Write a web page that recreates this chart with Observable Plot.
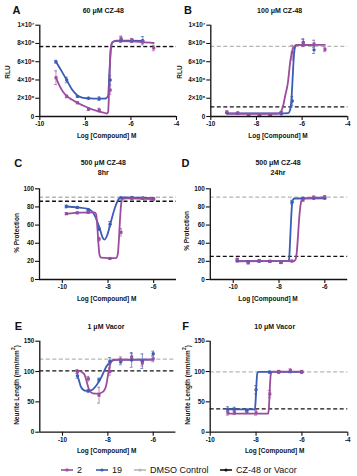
<!DOCTYPE html>
<html><head><meta charset="utf-8">
<script src="https://cdn.jsdelivr.net/npm/d3@7"></script>
<script src="https://cdn.jsdelivr.net/npm/@observablehq/plot@0.6"></script>
<style>
body{margin:0;background:#fff;font-family:"Liberation Sans",Arial,sans-serif;}
#fig{position:relative;width:357px;height:476px;overflow:hidden;background:#fff;}
.abs{position:absolute;white-space:nowrap;transform:translate(-50%,-50%);color:#111;}
.letter{font-weight:bold;font-size:11px;}
.title{font-weight:bold;font-size:7px;text-align:center;line-height:10px;}
.xl{font-weight:bold;font-size:6.5px;}
.yl{font-weight:bold;font-size:6.5px;transform:translate(-50%,-50%) rotate(-90deg);}
.panel{position:absolute;}
.panel svg{overflow:visible;}
.leg{position:absolute;font-size:9px;color:#111;transform:translateY(-50%);white-space:nowrap;}
</style>
</head><body><div id="fig"></div>
<script>
const PURPLE = "#9a4c9e", BLUE = "#3a5cb5", GRAY = "#b5b5b5", BLACK = "#111";

// ---------- Panel A: 60 µM CZ-48 (RLU) ----------
const concA = [-9.29,-8.82,-8.34,-7.86,-7.39,-6.91,-6.43,-5.95,-5.48,-5.0];
const blueA = [6.0e6,4.0e6,2.2e6,2.0e6,1.95e6,4.0e6,8.4e6,8.3e6,8.3e6,null];
const blueErrA = [0.15e6,0.3e6,0.1e6,0.1e6,0.2e6,0.5e6,0.3e6,0.2e6,0.45e6,null];
const purpleA = [4.25e6,2.2e6,1.5e6,0.8e6,0.7e6,2.9e6,8.5e6,8.35e6,8.2e6,7.5e6];
const purpleErrA = [0.75e6,0.15e6,0.1e6,0.15e6,0.2e6,0.5e6,0.3e6,0.2e6,0.2e6,0.3e6];
const blueCurveA = [[-9.29,6.0e6],[-9.05,5.0e6],[-8.82,4.0e6],[-8.6,3.0e6],[-8.35,2.3e6],[-8.1,2.05e6],[-7.8,1.98e6],[-7.4,1.95e6],[-7.1,1.97e6],[-7.0,2.3e6],[-6.96,4.0e6],[-6.92,6.0e6],[-6.87,7.6e6],[-6.8,8.15e6],[-6.6,8.3e6],[-6.0,8.3e6],[-5.48,8.28e6]];
const purpleCurveA = [[-9.29,4.25e6],[-9.12,3.3e6],[-8.95,2.6e6],[-8.82,2.25e6],[-8.6,1.85e6],[-8.35,1.5e6],[-8.1,1.2e6],[-7.88,0.95e6],[-7.6,0.7e6],[-7.41,0.55e6],[-7.2,0.42e6],[-7.05,0.33e6],[-7.0,0.5e6],[-6.97,2.0e6],[-6.93,5.0e6],[-6.89,7.4e6],[-6.83,8.1e6],[-6.7,8.25e6],[-6.0,8.22e6],[-5.5,8.15e6],[-5.0,8.05e6]];
const grayA = 7.7e6, blackA = 7.65e6;

// ---------- Panel B: 100 µM CZ-48 (RLU) ----------
const concB = [-9.29,-8.82,-8.34,-7.86,-7.39,-6.91,-6.43,-5.95,-5.48,-5.0];
const blueB = [0.4e6,0.35e6,0.2e6,0.1e6,0.12e6,0.3e6,1.7e6,8.1e6,7.3e6,null];
const blueErrB = [0.05e6,0.05e6,0.05e6,0.05e6,0.05e6,0.1e6,0.5e6,0.4e6,0.4e6,null];
const purpleB = [0.5e6,0.4e6,0.22e6,0.12e6,0.15e6,0.45e6,7.0e6,8.05e6,7.95e6,7.35e6];
const purpleErrB = [0.1e6,0.05e6,0.05e6,0.05e6,0.05e6,0.1e6,0.8e6,0.4e6,0.4e6,0.25e6];
const blueCurveB = [[-9.29,0.35e6],[-7.0,0.35e6],[-6.6,0.38e6],[-6.53,0.7e6],[-6.47,1.8e6],[-6.42,4.0e6],[-6.37,6.3e6],[-6.32,7.5e6],[-6.25,7.85e6],[-5.48,7.85e6]];
const purpleCurveB = [[-9.29,0.3e6],[-7.1,0.3e6],[-6.95,0.45e6],[-6.85,1.0e6],[-6.74,2.3e6],[-6.63,3.6e6],[-6.52,6.0e6],[-6.42,7.3e6],[-6.32,7.75e6],[-6.2,7.85e6],[-5.0,7.85e6]];
const grayB = 7.68e6, blackB = 1.06e6;

// ---------- Panel C: 500 µM CZ-48, 8hr (% Protection) ----------
const concC = [-9.82,-9.34,-8.86,-8.39,-7.91,-7.43,-6.95,-6.48,-6.0];
const blueC = [80.5,79.3,77,56,61,90,90.5,90,89];
const blueErrC = [1.5,1,1,2,3,1,0.5,0.5,0.5];
const purpleC = [72.5,73.5,74,44.5,23.2,52,89.5,89.5,88.5];
const purpleErrC = [1,1,1,2,1,4,1,1,1];
const blueCurveC = [[-9.82,80.5],[-9.35,79.6],[-8.87,77.8],[-8.58,70.5],[-8.36,56],[-8.22,45.5],[-8.15,44],[-8.04,48.5],[-7.9,61],[-7.71,78],[-7.52,89],[-7.38,90.5],[-6.0,89.8]];
const purpleCurveC = [[-9.82,72.5],[-9.2,73.8],[-8.6,74],[-8.52,72],[-8.47,59],[-8.42,40],[-8.37,27],[-8.3,24],[-8.0,23.5],[-7.65,23.6],[-7.57,28],[-7.52,45],[-7.47,68],[-7.42,84],[-7.36,89],[-7.2,89.5],[-6.0,88.7]];
const grayC = 90.7, blackC = 86.3;

// ---------- Panel D: 500 µM CZ-48, 24hr (% Protection) ----------
const concD = [-9.82,-9.34,-8.86,-8.39,-7.91,-7.43,-6.95,-6.48,-6.0];
const blueD = [20.5,19.5,20,20,18.8,85.3,89.5,89.5,89.5];
const blueErrD = [1,1,1,1,1,2,0.5,0.5,0.5];
const purpleD = [22.3,18.3,20.9,20.1,18.7,20.3,87.5,90.8,91.2];
const purpleErrD = [1,1,1,1,1,1,1,1,1];
const blueCurveD = [[-9.82,20.2],[-7.6,20.2],[-7.56,22],[-7.52,40],[-7.48,62],[-7.44,80],[-7.4,87.5],[-7.33,89.3],[-6.0,89.5]];
const purpleCurveD = [[-9.82,20.1],[-7.35,20.3],[-7.28,22],[-7.22,31],[-7.17,48],[-7.12,67],[-7.07,80],[-7.02,87],[-6.93,89.5],[-6.0,90.5]];
const grayD = 90.8, blackD = 25.6;

// ---------- Panel E: 1 µM Vacor (Neurite Length) ----------
const concE = [-9.34,-8.86,-8.39,-7.91,-7.43,-6.95,-6.48,-6.0];
const blueE = [93,68,86,117,116,119,117,129.5];
const blueErrE = [4,2,3,6,5,12,12,4];
const purpleE = [100,88,61,100,119,124,114,121];
const purpleErrE = [3,4,13,6,5,6,5,5];
const blueCurveE = [[-9.34,93],[-9.27,85],[-9.2,76],[-9.1,70.5],[-8.95,68.2],[-8.72,69.3],[-8.5,77.5],[-8.28,91.3],[-8.07,107.8],[-7.85,117],[-7.63,119.3],[-6.0,119.5]];
const purpleCurveE = [[-9.38,102],[-9.16,99.5],[-9.02,94],[-8.91,80.3],[-8.83,70],[-8.66,64],[-8.44,63.5],[-8.22,66.5],[-8.07,77.5],[-7.97,99.5],[-7.85,116],[-7.71,119.5],[-6.0,119.5]];
const grayE = 120.3, blackE = 101.2;

// ---------- Panel F: 10 µM Vacor (Neurite Length) ----------
const concF = [-9.23,-8.94,-8.4,-8.0,-7.4,-7.0,-6.5,-6.0];
const blueF = [38,38,36,70,99,99,100,99];
const blueErrF = [4,3,2,7,2,2,2,2];
const purpleF = [32,32,32.5,32,63,100,101.5,100];
const purpleErrF = [4,3,2,4,6,2,3,2];
const blueCurveF = [[-9.23,37.5],[-8.06,37.5],[-8.03,45],[-8.0,65],[-7.97,88],[-7.94,98],[-7.88,99.5],[-6.0,99.5]];
const purpleCurveF = [[-9.23,30.5],[-7.48,30.5],[-7.45,36],[-7.42,55],[-7.39,80],[-7.36,95],[-7.32,99.8],[-6.0,100]];
const grayF = 99.5, blackF = 38.5;

const rluFormat = d => d === 0 ? "0" : d === 1e7 ? "1×10⁷" : `${d / 1e6}×10⁶`;
const intFormat = d => String(d);

function pts(conc, vals, errs) {
  return conc.map((x, i) => ({x, y: vals[i], e: errs[i]})).filter(d => d.y != null);
}

function panel(o) {
  const b = pts(o.conc, o.blue, o.blueErr);
  const p = pts(o.conc, o.purple, o.purpleErr);
  const cap = 0.065;
  const errMarks = (data, color) => [
    Plot.ruleX(data, {x: "x", y1: d => d.y - d.e, y2: d => d.y + d.e, stroke: color, strokeWidth: 0.9, strokeOpacity: 0.75}),
    Plot.ruleY(data, {y: d => d.y + d.e, x1: d => d.x - cap, x2: d => d.x + cap, stroke: color, strokeWidth: 0.9, strokeOpacity: 0.75}),
    Plot.ruleY(data, {y: d => d.y - d.e, x1: d => d.x - cap, x2: d => d.x + cap, stroke: color, strokeWidth: 0.9, strokeOpacity: 0.75})
  ];
  const chart = Plot.plot({
    width: o.width, height: o.height,
    marginLeft: o.mL, marginRight: o.mR, marginTop: o.mT, marginBottom: o.mB,
    x: {domain: o.xDomain},
    y: {domain: o.yDomain},
    style: {background: "transparent", overflow: "visible", fontFamily: "'Liberation Sans', Arial, sans-serif", fontSize: "6.3px", fontWeight: "bold", color: "#111"},
    marks: [
      Plot.ruleY([o.gray], {stroke: GRAY, strokeWidth: 1.3, strokeDasharray: "4,2.5"}),
      Plot.ruleY([o.black], {stroke: BLACK, strokeWidth: 1.3, strokeDasharray: "4,2.5"}),
      ...errMarks(b, BLUE),
      ...errMarks(p, PURPLE),
      Plot.line(o.blueCurve, {x: d => d[0], y: d => d[1], stroke: BLUE, strokeWidth: 1.8, curve: "monotone-x"}),
      Plot.line(o.purpleCurve, {x: d => d[0], y: d => d[1], stroke: PURPLE, strokeWidth: 1.8, curve: "monotone-x"}),
      Plot.dot(b, {x: "x", y: "y", fill: BLUE, r: 1.7, symbol: "circle"}),
      Plot.dot(p, {x: "x", y: "y", fill: PURPLE, r: 1.7, symbol: "square"}),
      Plot.axisX({ticks: o.xTicks, tickSize: 4, tickPadding: 1.5, label: null, tickFormat: intFormat, strokeWidth: 1.1}),
      Plot.axisY({ticks: o.yTicks, tickSize: 4, tickPadding: 1.5, label: null, tickFormat: o.yFormat, strokeWidth: 1.1}),
      Plot.ruleY([o.yDomain[0]], {stroke: "#111", strokeWidth: 1.3}),
      Plot.ruleX([o.xDomain[0]], {stroke: "#111", strokeWidth: 1.3})
    ]
  });
  const wrap = document.createElement("div");
  wrap.className = "panel";
  wrap.style.left = o.left + "px";
  wrap.style.top = o.top + "px";
  wrap.appendChild(chart);
  fig.appendChild(wrap);
}

const fig = document.getElementById("fig");

panel({left: 0, top: 0, width: 178, height: 132, mL: 39.3, mR: 2, mT: 24.7, mB: 16,
  xDomain: [-10, -4], xTicks: [-10, -8, -6, -4], yDomain: [0, 1e7], yTicks: [0, 2e6, 4e6, 6e6, 8e6, 1e7], yFormat: rluFormat,
  conc: concA, blue: blueA, blueErr: blueErrA, purple: purpleA, purpleErr: purpleErrA,
  blueCurve: blueCurveA, purpleCurve: purpleCurveA, gray: grayA, black: blackA});
panel({left: 178, top: 0, width: 179, height: 132, mL: 32.3, mR: 9.7, mT: 24.7, mB: 16,
  xDomain: [-10, -4], xTicks: [-10, -8, -6, -4], yDomain: [0, 1e7], yTicks: [0, 2e6, 4e6, 6e6, 8e6, 1e7], yFormat: rluFormat,
  conc: concB, blue: blueB, blueErr: blueErrB, purple: purpleB, purpleErr: purpleErrB,
  blueCurve: blueCurveB, purpleCurve: purpleCurveB, gray: grayB, black: blackB});
panel({left: 0, top: 140, width: 178, height: 156, mL: 39, mR: 2, mT: 48.3, mB: 17,
  xDomain: [-11, -5], xTicks: [-10, -8, -6], yDomain: [0, 100], yTicks: [0, 20, 40, 60, 80, 100], yFormat: intFormat,
  conc: concC, blue: blueC, blueErr: blueErrC, purple: purpleC, purpleErr: purpleErrC,
  blueCurve: blueCurveC, purpleCurve: purpleCurveC, gray: grayC, black: blackC});
panel({left: 178, top: 140, width: 179, height: 156, mL: 31.8, mR: 9.8, mT: 48.3, mB: 17,
  xDomain: [-11, -5], xTicks: [-10, -8, -6], yDomain: [0, 100], yTicks: [0, 20, 40, 60, 80, 100], yFormat: intFormat,
  conc: concD, blue: blueD, blueErr: blueErrD, purple: purpleD, purpleErr: purpleErrD,
  blueCurve: blueCurveD, purpleCurve: purpleCurveD, gray: grayD, black: blackD});
panel({left: 0, top: 295, width: 178, height: 153, mL: 39.3, mR: 2.6, mT: 45.7, mB: 16.3,
  xDomain: [-11, -5], xTicks: [-10, -8, -6], yDomain: [0, 150], yTicks: [0, 50, 100, 150], yFormat: intFormat,
  conc: concE, blue: blueE, blueErr: blueErrE, purple: purpleE, purpleErr: purpleErrE,
  blueCurve: blueCurveE, purpleCurve: purpleCurveE, gray: grayE, black: blackE});
panel({left: 178, top: 295, width: 179, height: 153, mL: 31.7, mR: 9.7, mT: 45.7, mB: 16.3,
  xDomain: [-10, -4], xTicks: [-10, -8, -6, -4], yDomain: [0, 150], yTicks: [0, 50, 100, 150], yFormat: intFormat,
  conc: concF, blue: blueF, blueErr: blueErrF, purple: purpleF, purpleErr: purpleErrF,
  blueCurve: blueCurveF, purpleCurve: purpleCurveF, gray: grayF, black: blackF});

// ---------- Text labels ----------
const labels = [
  ["letter", "A", 16.5, 10], ["letter", "B", 188, 10], ["letter", "C", 18.3, 162.7], ["letter", "D", 185.5, 162.7], ["letter", "E", 18.3, 325.7], ["letter", "F", 185.5, 325.7],
  ["title", "60 μM CZ-48", 103.3, 10.7], ["title", "100 μM CZ-48", 279.7, 10.7],
  ["title", "500 μM CZ-48<br>8hr", 103.3, 168.3], ["title", "500 μM CZ-48<br>24hr", 278, 168.3],
  ["title", "1 μM Vacor", 106, 326.7], ["title", "10 μM Vacor", 274.7, 326.7],
  ["xl", "Log [Compound] M", 106.7, 135], ["xl", "Log [Compound] M", 278, 135],
  ["xl", "Log [Compound] M", 106.7, 298], ["xl", "Log [Compound] M", 268, 298],
  ["xl", "Log [Compound] M", 106.7, 450], ["xl", "Log [Compound] M", 274.7, 450],
  ["yl", "RLU", 6.5, 71.5], ["yl", "RLU", 178.5, 71.5],
  ["yl", "% Protection", 16, 233], ["yl", "% Protection", 186.3, 231],
  ["yl", "Neurite Length (mm/mm<sup style='font-size:5px'>2</sup>)", 15, 385], ["yl", "Neurite Length (mm/mm<sup style='font-size:5px'>2</sup>)", 186.3, 385]
];
for (const [cls, txt, x, y] of labels) {
  const d = document.createElement("div");
  d.className = "abs " + cls;
  d.innerHTML = txt;
  d.style.left = x + "px";
  d.style.top = y + "px";
  fig.appendChild(d);
}

// ---------- Legend ----------
const legendNames = ["2", "19", "DMSO Control", "CZ-48 or Vacor"];
const legendColors = [PURPLE, BLUE, GRAY, BLACK];
const legendSymbols = ["square", "circle", "circle", "circle"];
const legendX = [61, 96, 134, 220];
legendNames.forEach((name, i) => {
  const d = document.createElement("div");
  d.className = "leg";
  d.style.left = legendX[i] + "px";
  d.style.top = "469.5px";
  const c = legendColors[i];
  const mk = legendSymbols[i] === "square"
    ? `<rect x="4.6" y="2.6" width="2.8" height="2.8" fill="${c}"/>`
    : `<circle cx="6" cy="4" r="1.6" fill="${c}"/>`;
  d.innerHTML = `<svg width="12" height="8" style="vertical-align:middle;margin-right:4px"><line x1="0" y1="4" x2="12" y2="4" stroke="${c}" stroke-width="1.6"/>${mk}</svg>${name}`;
  fig.appendChild(d);
});
</script></body></html>
